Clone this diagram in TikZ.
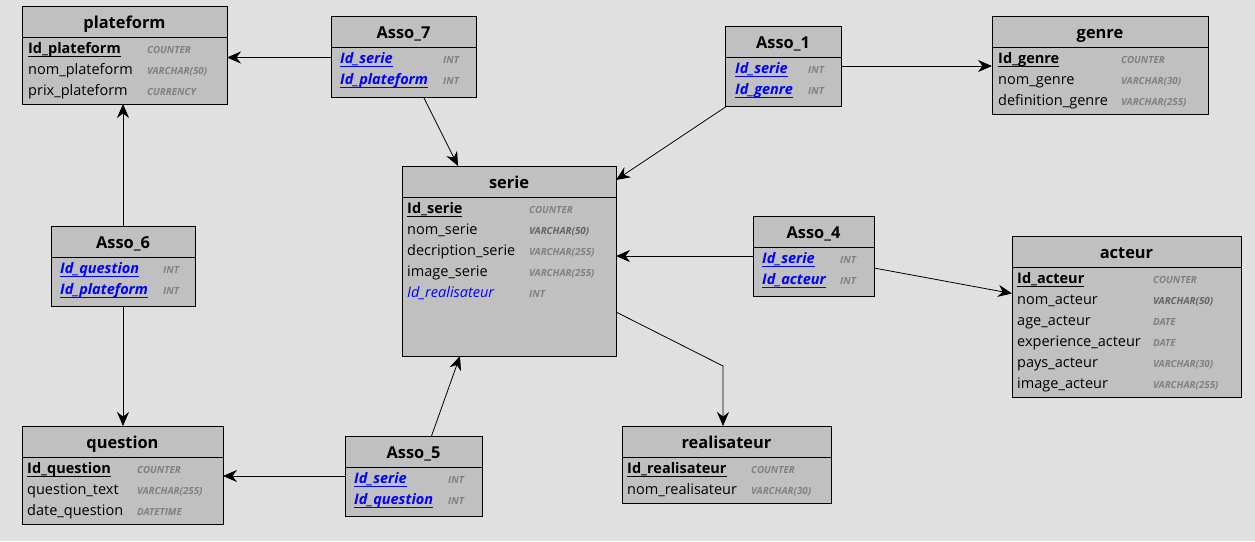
\documentclass[tikz,border=0pt]{standalone}
\usepackage{fontspec}
\setmainfont{Open Sans}
\usetikzlibrary{arrows.meta}
\definecolor{bg}{RGB}{224,224,224}
\definecolor{boxfill}{RGB}{192,192,192}
\definecolor{typegray}{RGB}{128,128,128}
\definecolor{typedark}{RGB}{100,100,100}
\definecolor{fkblue}{RGB}{0,0,255}
\newcommand\myul[1]{\setbox0\hbox{#1}\rlap{\rule[-3.7pt]{\wd0}{1pt}}\box0}
\newcommand\pk[1]{\bfseries\myul{#1}}
\newcommand\fk[1]{\color{fkblue}\bfseries\itshape\myul{#1}}
\newcommand\ertbl[6]{%
  \node[tbl, minimum width=#4pt, minimum height=#5pt] (#1) at (#2,#3) {};
  \draw[line width=1pt] ([yshift=-31pt]#1.north west) -- ([yshift=-31pt]#1.north east);
  \node[ttl] (#1-title) at ([yshift=-22pt]#1.north) {#6};
}
\newcommand\erfld[7]{%
  \node[fld] (#1) at (#2,#3) {#4};
  \node[typ,#7] (#1-type) at (#5,#3) {#6};
}
\tikzset{
  tbl/.style={draw=black, line width=1pt, fill=boxfill, anchor=north west, inner sep=0pt, outer sep=0pt},
  ttl/.style={font=\fontsize{16.4}{18}\selectfont\bfseries, anchor=base, inner sep=0pt},
  fld/.style={font=\fontsize{14.5}{16}\selectfont, anchor=base west, inner sep=0pt},
  typ/.style={font=\fontsize{9.8}{11}\selectfont\bfseries\itshape, text=typegray, anchor=base west, inner sep=0pt},
  dk/.style={text=typedark},
  conn/.style={-{Stealth[length=14pt,width=12pt]}, line width=0.8pt},
}
\begin{document}
\begin{tikzpicture}[x=1pt,y=-1pt]
\fill[bg] (0,0) rectangle (1255,541);
\useasboundingbox (0,0) rectangle (1255,541);

% plateform
\ertbl{plat}{22}{6}{205}{98}{plateform}
\erfld{plat-1}{28}{53}{\pk{Id\_plateform}}{147}{COUNTER}{}
\erfld{plat-2}{28}{74}{nom\_plateform}{147}{VARCHAR(50)}{}
\erfld{plat-3}{28}{95}{prix\_plateform}{147}{CURRENCY}{}

% Asso_7
\ertbl{a7}{331}{16}{145}{81}{Asso\_7}
\erfld{a7-1}{340}{63}{\fk{Id\_serie}}{443}{INT}{}
\erfld{a7-2}{340}{84}{\fk{Id\_plateform}}{443}{INT}{}

% Asso_1
\ertbl{a1}{725}{26}{116}{80}{Asso\_1}
\erfld{a1-1}{735}{73}{\fk{Id\_serie}}{808}{INT}{}
\erfld{a1-2}{735}{94}{\fk{Id\_genre}}{808}{INT}{}

% genre
\ertbl{genre}{992}{16}{216}{98}{genre}
\erfld{genre-1}{998}{63}{\pk{Id\_genre}}{1121}{COUNTER}{}
\erfld{genre-2}{998}{84}{nom\_genre}{1121}{VARCHAR(30)}{}
\erfld{genre-3}{998}{105}{definition\_genre}{1121}{VARCHAR(255)}{}

% serie
\ertbl{serie}{402}{166}{214}{190}{serie}
\erfld{serie-1}{407}{213}{\pk{Id\_serie}}{529}{COUNTER}{}
\erfld{serie-2}{407}{234}{nom\_serie}{529}{VARCHAR(50)}{dk}
\erfld{serie-3}{407}{255}{decription\_serie}{529}{VARCHAR(255)}{}
\erfld{serie-4}{407}{276}{image\_serie}{529}{VARCHAR(255)}{}
\erfld{serie-5}{407}{297}{\color{fkblue}\itshape Id\_realisateur}{529}{INT}{}

% Asso_4
\ertbl{a4}{753}{216}{121}{80}{Asso\_4}
\erfld{a4-1}{762}{263}{\fk{Id\_serie}}{840}{INT}{}
\erfld{a4-2}{762}{284}{\fk{Id\_acteur}}{840}{INT}{}

% acteur
\ertbl{act}{1012}{236}{229}{161}{acteur}
\erfld{act-1}{1017}{283}{\pk{Id\_acteur}}{1153}{COUNTER}{}
\erfld{act-2}{1017}{304}{nom\_acteur}{1153}{VARCHAR(50)}{dk}
\erfld{act-3}{1017}{325}{age\_acteur}{1153}{DATE}{}
\erfld{act-4}{1017}{346}{experience\_acteur}{1153}{DATE}{}
\erfld{act-5}{1017}{367}{pays\_acteur}{1153}{VARCHAR(30)}{}
\erfld{act-6}{1017}{388}{image\_acteur}{1153}{VARCHAR(255)}{}

% Asso_6
\ertbl{a6}{51}{226}{144}{80}{Asso\_6}
\erfld{a6-1}{60}{273}{\fk{Id\_question}}{163}{INT}{}
\erfld{a6-2}{60}{294}{\fk{Id\_plateform}}{163}{INT}{}

% question
\ertbl{q}{22}{426}{201}{98}{question}
\erfld{q-1}{27}{473}{\pk{Id\_question}}{137}{COUNTER}{}
\erfld{q-2}{27}{494}{question\_text}{137}{VARCHAR(255)}{}
\erfld{q-3}{27}{515}{date\_question}{137}{DATETIME}{}

% Asso_5
\ertbl{a5}{345}{436}{137}{80}{Asso\_5}
\erfld{a5-1}{354}{483}{\fk{Id\_serie}}{448}{INT}{}
\erfld{a5-2}{354}{504}{\fk{Id\_question}}{448}{INT}{}

% realisateur
\ertbl{real}{622}{426}{209}{77}{realisateur}
\erfld{real-1}{627}{473}{\pk{Id\_realisateur}}{751}{COUNTER}{}
\erfld{real-2}{627}{494}{nom\_realisateur}{751}{VARCHAR(30)}{}

% connectors
\draw[conn] ([yshift=-1pt]a7.west) -- ([yshift=-1pt]a7.west -| plat.east);
\draw[conn] ([xshift=20pt]a7.south) -- ([xshift=-51pt]serie.north);
\draw[conn] (a1.east) -- (a1.east -| genre.west);
\draw[conn] ([xshift=2pt]a1.south west) -- ([yshift=-14pt]serie.north east);
\draw[conn] (a4.west) -- (a4.west -| serie.east);
\draw[conn] ([yshift=-12pt]a4.east) -- ([yshift=23pt]act.west);
\draw[conn] (a6.north) -- (a6.north |- plat.south);
\draw[conn] (a6.south) -- (a6.south |- q.north);
\draw[conn] (a5.west) -- (a5.west -| q.east);
\draw[conn] ([xshift=18pt]a5.north) -- ([xshift=-49pt]serie.south);
\coordinate (bend) at (723,366);
\draw[conn] ([yshift=-51pt]serie.east) -- (bend) -- (bend |- real.north);
\end{tikzpicture}
\end{document}
